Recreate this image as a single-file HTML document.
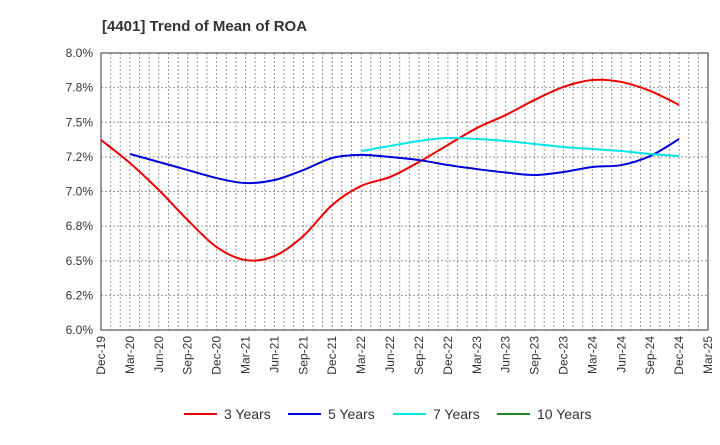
<!DOCTYPE html>
<html><head><meta charset="utf-8"><style>
body{margin:0;background:#fff;font-family:"Liberation Sans",sans-serif}
</style></head><body>
<svg id="c" width="720" height="440" xmlns="http://www.w3.org/2000/svg" font-family="Liberation Sans, sans-serif">
<text x="102" y="31" font-size="15" font-weight="bold" fill="#333">[4401]  Trend of Mean of ROA</text>
<g id="grid"></g><g id="axes"></g><g id="series"></g>
<g id="legend"></g>
</svg>
<script>
const xLabels=["Dec-19","Mar-20","Jun-20","Sep-20","Dec-20","Mar-21","Jun-21","Sep-21","Dec-21","Mar-22","Jun-22","Sep-22","Dec-22","Mar-23","Jun-23","Sep-23","Dec-23","Mar-24","Jun-24","Sep-24","Dec-24","Mar-25"];
const yTicks=[6.0,6.25,6.5,6.75,7.0,7.25,7.5,7.75,8.0];
const yTickLabels=["6.0%","6.2%","6.5%","6.8%","7.0%","7.2%","7.5%","7.8%","8.0%"];
const red=[7.372,7.206,7.011,6.794,6.599,6.505,6.534,6.679,6.903,7.040,7.105,7.213,7.336,7.458,7.552,7.661,7.755,7.805,7.791,7.726,7.625];
const blue=[null,7.271,7.213,7.155,7.097,7.061,7.083,7.155,7.242,7.264,7.249,7.227,7.191,7.162,7.137,7.119,7.141,7.177,7.191,7.256,7.379];
const cyan=[null,null,null,null,null,null,null,null,null,7.292,7.329,7.365,7.386,7.379,7.365,7.343,7.321,7.307,7.292,7.271,7.256];
const ten=[];
const L=101,R=708,T=53,B=330;
const X=i=>L+(R-L)*i/21;
const Y=v=>B-(v-6)/2*(B-T);
const NS="http://www.w3.org/2000/svg";
function mk(tag,attrs,parent){const e=document.createElementNS(NS,tag);for(const k in attrs)e.setAttribute(k,attrs[k]);parent.appendChild(e);return e;}
const grid=document.getElementById('grid'),axes=document.getElementById('axes'),ser=document.getElementById('series'),leg=document.getElementById('legend');
for(let m=1;m<63;m++){const x=L+(R-L)*m/63;const l=mk('line',{x1:x,x2:x,y1:T,y2:B,stroke:'#999','stroke-dasharray':'2,2','stroke-width':1},grid);

}
yTicks.forEach((v,i)=>{const y=Y(v);const l=mk('line',{x1:L,x2:R,y1:y,y2:y,stroke:'#999','stroke-dasharray':'2,2','stroke-width':1},grid);


const t=mk('text',{x:L-8,y:y+4,'text-anchor':'end','font-size':12,fill:'#333'},axes);t.textContent=yTickLabels[i];

});
const fr=mk('rect',{x:L,y:T,width:R-L,height:B-T,fill:'none',stroke:'#333','stroke-width':1},axes);


xLabels.forEach((s,i)=>{const x=X(i);const t=mk('text',{transform:`translate(${x+4},${B+6}) rotate(-90)`,'text-anchor':'end','font-size':12,fill:'#333'},axes);t.textContent=s;

});
function path(arr){const p=[];arr.forEach((v,i)=>{if(v!=null)p.push([X(i),Y(v)]);});if(!p.length)return '';let d=`M${p[0][0]},${p[0][1]}`;
for(let i=0;i<p.length-1;i++){const p0=p[i-1]||p[i],p1=p[i],p2=p[i+1],p3=p[i+2]||p2;
d+=` C${p1[0]+(p2[0]-p0[0])/6},${p1[1]+(p2[1]-p0[1])/6} ${p2[0]-(p3[0]-p1[0])/6},${p2[1]-(p3[1]-p1[1])/6} ${p2[0]},${p2[1]}`;}return d;}
const S=[[red,'#ee0000','3 Years','red-series'],[blue,'#0000dd','5 Years','blue-series'],[cyan,'#00e5e5','7 Years','cyan-series'],[ten,'#228822','10 Years','ten-year-series']];
S.forEach(([a,c,n,dn],k)=>{const d=path(a);if(d){const p=mk('path',{d:d,fill:'none',stroke:c,'stroke-width':2},ser);

}
const lx=[184,288,393,497][k];
const l=mk('line',{x1:lx,x2:lx+33,y1:414,y2:414,stroke:c,'stroke-width':2},leg);


const t=mk('text',{x:lx+40,y:419,'font-size':14,fill:'#333'},leg);t.textContent=n;

});
</script>
</body></html>
